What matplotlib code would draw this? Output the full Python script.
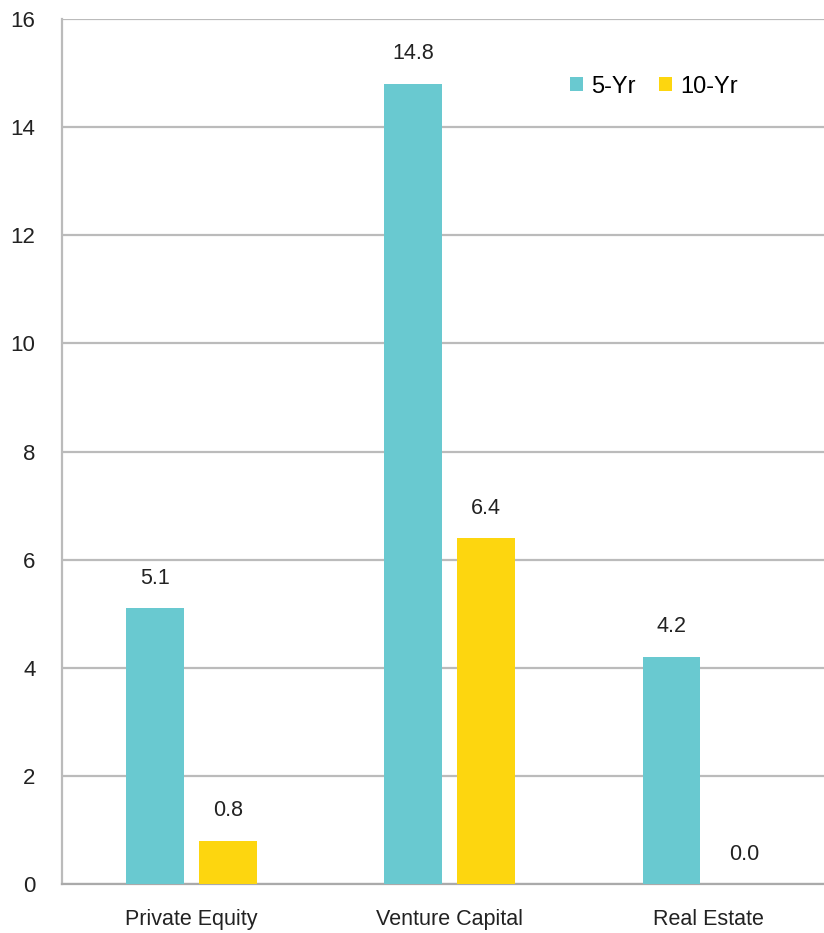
import matplotlib
matplotlib.use('Agg')
import matplotlib.pyplot as plt
import numpy as np

# data
categories = ['Private Equity', 'Venture Capital', 'Real Estate']
five_yr = [5.1, 14.8, 4.2]
ten_yr = [0.8, 6.4, 0.0]

teal = '#69C9D0'
yellow = '#FDD60F'
narrow = ['Liberation Sans Narrow', 'Liberation Sans', 'DejaVu Sans']

fig = plt.figure(figsize=(8.24, 9.33), dpi=100)
ax = fig.add_axes([62 / 824, 49 / 933, 762 / 824, 865 / 933])

x = np.arange(len(categories))
w = 0.224
off = 0.141
b1 = ax.bar(x - off, five_yr, w, color=teal, label='5-Yr', zorder=3)
b2 = ax.bar(x + off, ten_yr, w, color=yellow, label='10-Yr', zorder=3)

# value labels
for bars, vals in [(b1, five_yr), (b2, ten_yr)]:
    for r, v in zip(bars, vals):
        ax.text(r.get_x() + r.get_width() / 2, v + 0.36, f'{v:.1f}',
                ha='center', va='bottom', fontsize=15.5, family=narrow, color='#222222')

ax.set_xlim(-0.5, 2.449)
ax.set_ylim(0, 16)
ax.set_yticks(range(0, 17, 2))
ax.set_xticks(x)
ax.set_xticklabels(categories, family=narrow, fontsize=15.5)
for lab in ax.get_yticklabels():
    lab.set_family(narrow)
    lab.set_fontsize(16)
ax.tick_params(length=0, colors='#222222')
ax.tick_params(axis='x', pad=18)
ax.tick_params(axis='y', pad=19)

ax.grid(axis='y', color='#BBBBBB', linewidth=1.6, zorder=0)
for s in ['top', 'right']:
    ax.spines[s].set_visible(False)
ax.spines['left'].set_color('#BBBBBB')
ax.spines['left'].set_linewidth(1.6)
ax.spines['bottom'].set_color('#AAAAAA')
ax.spines['bottom'].set_linewidth(1.6)

leg = ax.legend(loc='upper right', bbox_to_anchor=(0.915, 0.959), ncol=2, frameon=False,
                prop={'family': 'Liberation Sans', 'size': 17},
                handlelength=0.55, handleheight=0.55, handletextpad=0.35, columnspacing=1.0)

fig.savefig('out.png', dpi=100)
